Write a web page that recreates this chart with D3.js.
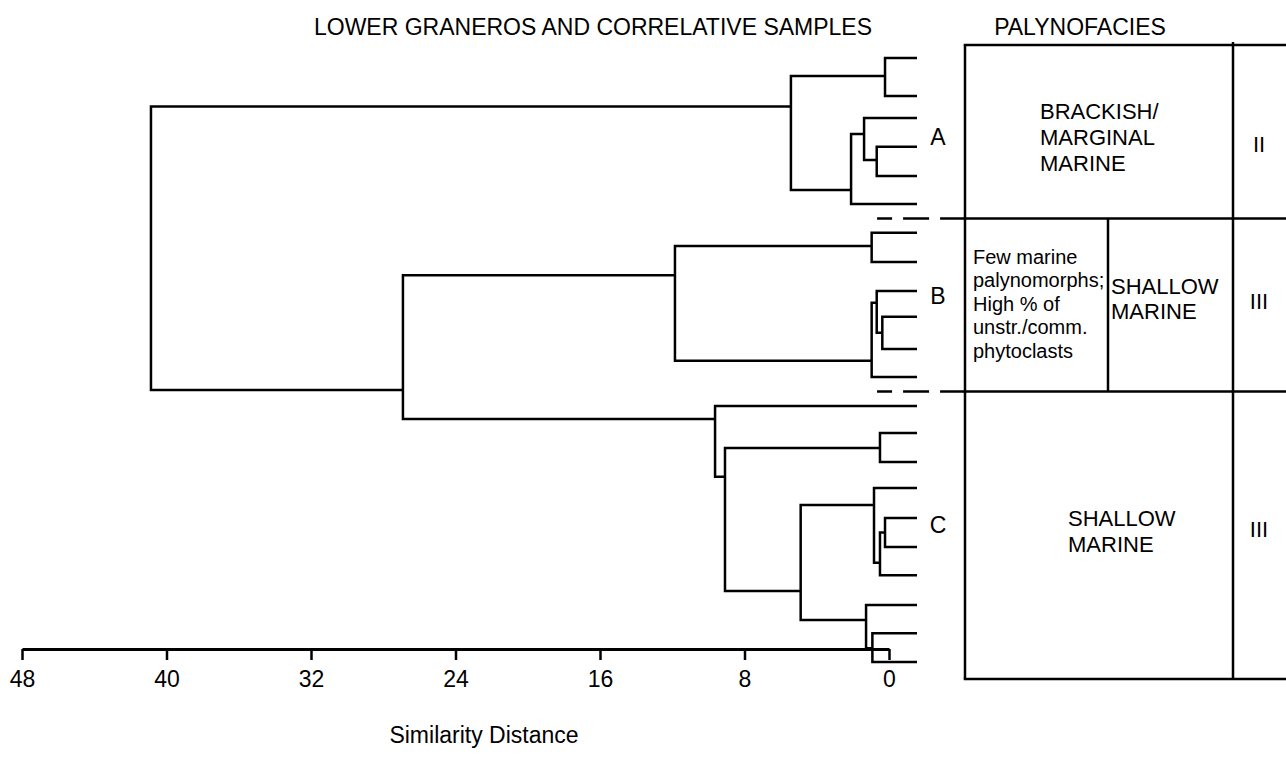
<!DOCTYPE html>
<html>
<head>
<meta charset="utf-8">
<script src="https://cdn.jsdelivr.net/npm/d3@7"></script>
<style>
  body { margin: 0; background: #fff; }
  svg { display: block; font-family: "Liberation Sans", Arial, Helvetica, sans-serif; }
  .tree path { fill: none; stroke: #000; stroke-width: 2.5; }
  .grid line { stroke: #000; stroke-width: 2.5; }
  .axis .domain { stroke: #000; stroke-width: 3; }
  .axis .tick line { stroke: #000; stroke-width: 2.5; }
  .axis .tick text { font-family: "Liberation Sans", Arial, sans-serif; font-size: 23px; fill: #000; }
</style>
</head>
<body>
<svg id="chart" width="1286" height="772"></svg>
<script>

// leaf positions, top to bottom, in row units
var leafRows = [0, 1.32, 2.09, 3.09, 4.1, 5.08,
                6.08, 7.09, 8.1, 9.0, 10.12, 11.09,
                12.1, 13.04, 14.05, 14.95, 15.99, 17.0, 17.98, 19.02, 20.0, 21.0];

// merges: name, upper child, lower child, similarity distance, row where the branch leaves
var merges = [
  ["a12",   "L0",    "L1",    0.22,  0.63],
  ["a45",   "L3",    "L4",    0.68,  3.55],
  ["a345",  "L2",    "a45",   1.38,  2.64],
  ["a3456", "a345",  "L5",    2.10,  4.59],
  ["A",     "a12",   "a3456", 5.43,  1.69],
  ["b12",   "L6",    "L7",    0.96,  6.54],
  ["b45",   "L9",    "L10",   0.37,  9.55],
  ["b345",  "L8",    "b45",   0.68,  8.51],
  ["b3456", "b345",  "L11",   0.96, 10.53],
  ["B",     "b12",   "b3456", 11.85, 7.55],
  ["c23",   "L13",   "L14",   0.50, 13.56],
  ["c56",   "L16",   "L17",   0.22, 16.5],
  ["c567",  "c56",   "L18",   0.50, 17.55],
  ["c4567", "L15",   "c567",  0.83, 15.54],
  ["c910",  "L20",   "L21",   0.92, 20.52],
  ["c8910", "L19",   "c910",  1.27, 19.54],
  ["cLow",  "c4567", "c8910", 4.89, 18.53],
  ["cMid",  "c23",   "cLow",  9.08, 14.56],
  ["C",     "L12",   "cMid",  9.63, 12.55],
  ["BC",    "B",     "C",     26.91, 11.54],
  ["root",  "A",     "BC",    40.86, null]
];

var clusterNames = ["A", "B", "C"];
var clusterLeaves = [[0, 5], [6, 11], [12, 21]];

var distanceTicks = [48, 40, 32, 24, 16, 8, 0];

var faciesMain = [["BRACKISH/", "MARGINAL", "MARINE"], ["SHALLOW", "MARINE"], ["SHALLOW", "MARINE"]];
var faciesType = ["II", "III", "III"];
var faciesNoteB = ["Few marine", "palynomorphs;", "High % of", "unstr./comm.", "phytoclasts"];

var titleLeft = "LOWER GRANEROS AND CORRELATIVE SAMPLES";
var titleRight = "PALYNOFACIES";
var axisTitle = "Similarity Distance";


var svg = d3.select("#chart");

var x = d3.scaleLinear().domain([48, 0]).range([22, 889]),
    y = d3.scaleLinear().domain([0, 21]).range([58, 662]);

var leafTip = -1.55;   // leaves run a little past zero

// ---- dendrogram
var nodes = {};
leafRows.forEach(function (r, i) { nodes["L" + i] = { h: leafTip, row: r }; });

var tree = svg.append("g").attr("class", "tree");
merges.forEach(function (m) {
  var a = nodes[m[1]], b = nodes[m[2]], h = m[3];
  nodes[m[0]] = { h: h, row: m[4] };
  tree.append("path")
    .attr("d", "M" + x(a.h) + "," + y(a.row) + "H" + x(h) + "V" + y(b.row) + "H" + x(b.h));
});

// cluster labels
var labelRow = { A: 3.02, B: 8.55, C: 16.5 };
svg.append("g").selectAll("text")
  .data(clusterNames).enter().append("text")
  .attr("x", 938)
  .attr("y", function (d) { return y(labelRow[d]); })
  .attr("text-anchor", "middle")
  .style("font-size", "23px")
  .text(function (d) { return d; });

// ---- axis
var xAxis = d3.axisBottom(x).tickValues(distanceTicks).tickSize(11).tickSizeOuter(0).tickPadding(11);
svg.append("g").attr("class", "axis")
  .attr("transform", "translate(0,649)")
  .call(xAxis);

svg.append("text")
  .attr("x", 484).attr("y", 743)
  .attr("text-anchor", "middle")
  .style("font-size", "23px")
  .text(axisTitle);

// ---- titles
svg.append("text").attr("x", 593).attr("y", 35).attr("text-anchor", "middle")
  .style("font-size", "23px").text(titleLeft);
svg.append("text").attr("x", 1080).attr("y", 35).attr("text-anchor", "middle")
  .style("font-size", "23px").text(titleRight);

// ---- palynofacies table
var tLeft = 965, tMid = 1108, tType = 1233, tRight = 1290;
var bounds = [y(leafRows[0]) - 13];
clusterLeaves.forEach(function (c, i) {
  if (i < clusterLeaves.length - 1) {
    bounds.push(y((leafRows[c[1]] + leafRows[clusterLeaves[i + 1][0]]) / 2));
  }
});
bounds.push(y(leafRows[leafRows.length - 1]) + 17);

var grid = svg.append("g").attr("class", "grid");
grid.selectAll("line.h").data(bounds).enter().append("line").attr("class", "h")
  .attr("x1", tLeft - 1.25).attr("x2", tRight)
  .attr("y1", function (d) { return d; }).attr("y2", function (d) { return d; });
grid.append("line").attr("x1", tLeft).attr("x2", tLeft).attr("y1", bounds[0]).attr("y2", bounds[3]);
grid.append("line").attr("x1", tType).attr("x2", tType).attr("y1", bounds[0] - 3).attr("y2", bounds[3]);
grid.append("line").attr("x1", tMid).attr("x2", tMid).attr("y1", bounds[1]).attr("y2", bounds[2]);

// dashed continuations of the boundaries
svg.append("g").selectAll("line").data(bounds.slice(1, 3)).enter().append("line")
  .attr("x1", x(0.66)).attr("x2", tLeft)
  .attr("y1", function (d) { return d; }).attr("y2", function (d) { return d; })
  .attr("stroke", "#000").attr("stroke-width", 2.5)
  .attr("stroke-dasharray", "15,11,26,11,30");

function block(lines, x0, y0, lh, size) {
  var t = svg.append("text").style("font-size", size + "px");
  lines.forEach(function (s, i) {
    t.append("tspan").attr("x", x0).attr("y", y0 + i * lh).text(s);
  });
  return t;
}

// text placement inside each row (offsets from the row top)
block(faciesMain[0], 1040, bounds[0] + 74, 26, 22);
block(faciesNoteB, 973, bounds[1] + 45.5, 23.5, 20);
block(faciesMain[1], 1111, bounds[1] + 75.5, 25, 22);
block(faciesMain[2], 1068, bounds[2] + 135, 26, 22);

var typeBase = [bounds[0] + 107, bounds[1] + 91, bounds[2] + 145.5];
svg.append("g").selectAll("text").data(faciesType).enter().append("text")
  .attr("x", 1259)
  .attr("y", function (d, i) { return typeBase[i]; })
  .attr("text-anchor", "middle")
  .style("font-size", "22px")
  .text(function (d) { return d; });

</script>
</body>
</html>
